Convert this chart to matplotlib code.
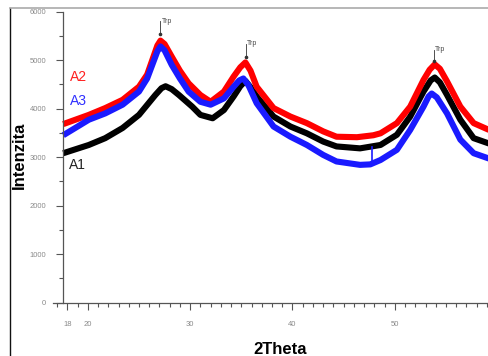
import matplotlib
matplotlib.use("Agg")
import matplotlib.pyplot as plt
from matplotlib.lines import Line2D
from matplotlib.ticker import FixedLocator, MultipleLocator

plt.rcParams['font.family'] = ['Liberation Sans', 'DejaVu Sans']

# ---- data ----
a2_x = [17.6, 20.1, 21.7, 23.4, 25.0, 25.8, 26.3, 26.8, 27.1, 27.5, 28.2, 29.0, 29.85, 31.0,
        32.0, 33.3, 34.25, 34.9, 35.4, 35.9, 36.5, 38.15, 39.8, 41.4, 43.0, 44.3, 46.3, 47.9,
        48.6, 50.2, 51.5, 52.8, 53.4, 53.9, 54.4, 55.1, 56.4, 57.7, 59.2]
a2_y = [3680, 3870, 4010, 4180, 4450, 4700, 5000, 5300, 5400, 5330, 5070, 4780, 4520, 4280,
        4140, 4350, 4660, 4850, 4950, 4780, 4450, 4010, 3835, 3700, 3530, 3420, 3410, 3450,
        3490, 3700, 4040, 4590, 4800, 4910, 4820, 4560, 4040, 3700, 3560]

a3_x = [17.6, 20.1, 21.7, 23.4, 25.0, 25.8, 26.3, 26.8, 27.1, 27.5, 28.2, 29.0, 29.85, 31.0,
        32.0, 33.3, 34.25, 34.8, 35.2, 35.7, 36.5, 38.15, 39.8, 41.4, 43.0, 44.3, 46.6, 47.6,
        48.6, 50.2, 51.5, 52.8, 53.3, 53.6, 54.1, 55.1, 56.4, 57.7, 59.2]
a3_y = [3450, 3770, 3900, 4080, 4350, 4620, 4900, 5180, 5280, 5200, 4900, 4620, 4350, 4140,
        4080, 4210, 4450, 4580, 4620, 4480, 4110, 3630, 3420, 3250, 3045, 2910, 2840, 2850,
        2940, 3150, 3560, 4040, 4250, 4310, 4230, 3900, 3360, 3080, 2970]
a3_spike_x = [47.75, 47.75]
a3_spike_y = [2860, 3200]

a1_x = [17.6, 20.1, 21.7, 23.4, 25.0, 26.6, 27.2, 27.6, 28.2, 28.9, 30.2, 31.0, 32.2, 33.3,
        34.25, 34.9, 35.4, 35.9, 36.5, 38.15, 39.8, 41.4, 43.0, 44.3, 46.6, 48.6, 50.2, 51.5,
        52.8, 53.5, 53.9, 54.4, 55.1, 56.4, 57.7, 59.2]
a1_y = [3080, 3250, 3390, 3600, 3870, 4280, 4420, 4460, 4400, 4280, 4040, 3870, 3800, 3970,
        4250, 4460, 4570, 4440, 4250, 3835, 3630, 3490, 3320, 3220, 3180, 3250, 3460, 3835,
        4350, 4580, 4640, 4540, 4280, 3770, 3390, 3280]

series_labels = ["A1", "A2", "A3"]
trp_x = [27.1, 35.45, 53.85]
trp_tip = [5540, 5070, 4970]
trp_text_y = [5800, 5340, 5210]

x_major = [18, 20, 30, 40, 50]
y_major = [0, 1000, 2000, 3000, 4000, 5000, 6000]

# ---- figure ----
fig = plt.figure(figsize=(4.89, 3.56), dpi=100)
ax = fig.add_axes([53 / 489, (356 - 302.7) / 356, 1 - 53 / 489, (302.7 - 11.5) / 356])

lw = 4.4
kw = dict(lw=lw, solid_joinstyle='round', solid_capstyle='butt')
ax.plot(a1_x, a1_y, color='black', **kw)
ax.plot(a2_x, a2_y, color='#ff0000', **kw)
ax.plot(a3_x, a3_y, color='#1a1aff', **kw)
ax.plot(a3_spike_x, a3_spike_y, color='#1a1aff', lw=1.2)

ax.set_xlim(16.6, 59.2)
ax.set_ylim(0, 6000)

for s in ['top', 'right']:
    ax.spines[s].set_visible(False)
ax.spines['left'].set_position(('data', 17.56))
for s in ['left', 'bottom']:
    ax.spines[s].set_color('#555555')
    ax.spines[s].set_linewidth(0.9)

ax.xaxis.set_major_locator(FixedLocator(x_major))
ax.set_xticklabels([str(v) for v in x_major])
ax.xaxis.set_minor_locator(MultipleLocator(1))
ax.yaxis.set_major_locator(FixedLocator(y_major))
ax.set_yticklabels([str(v) for v in y_major])
ax.yaxis.set_minor_locator(MultipleLocator(500))

ax.tick_params(axis='both', which='major', direction='out', length=5, width=0.8,
               color='#555555', labelcolor='#8a8a8a', labelsize=5.5)
ax.tick_params(axis='both', which='minor', direction='out', length=3, width=0.8,
               color='#555555')
ax.tick_params(axis='y', which='major', pad=7)
ax.tick_params(axis='x', which='major', pad=8)

fig.text(280 / 489, 1 - 349 / 356, '2Theta', fontsize=12, fontweight='bold',
         ha='center', va='center')
fig.text(19 / 489, 1 - 155 / 356, 'Intenzita', fontsize=12, fontweight='bold',
         rotation=90, ha='center', va='center')

# series labels
fig.text(70 / 489, 1 - 77 / 356, series_labels[1], color='#ff2020', fontsize=10,
         ha='left', va='center')
fig.text(70 / 489, 1 - 101 / 356, series_labels[2], color='#3030ff', fontsize=10,
         ha='left', va='center')
fig.text(69 / 489, 1 - 165 / 356, series_labels[0], color='#222222', fontsize=10,
         ha='left', va='center')

# Trp annotations
for tx, tip, ty in zip(trp_x, trp_tip, trp_text_y):
    ax.plot([tx, tx], [tip, ty], color='#333333', lw=0.6)
    ax.plot([tx], [tip], marker='o', ms=1.6, color='#333333')
    ax.text(tx + 0.1, ty, 'Trp', fontsize=5, color='#444444', ha='left', va='center')

# frame lines of the original picture
fig.add_artist(Line2D([10 / 489, 10 / 489], [0, 1 - 8 / 356], transform=fig.transFigure,
                      color='#111111', lw=1.0))
fig.add_artist(Line2D([10 / 489, 1], [1 - 8 / 356, 1 - 8 / 356], transform=fig.transFigure,
                      color='#aaaaaa', lw=1.2))

fig.savefig('out.png', dpi=100)
